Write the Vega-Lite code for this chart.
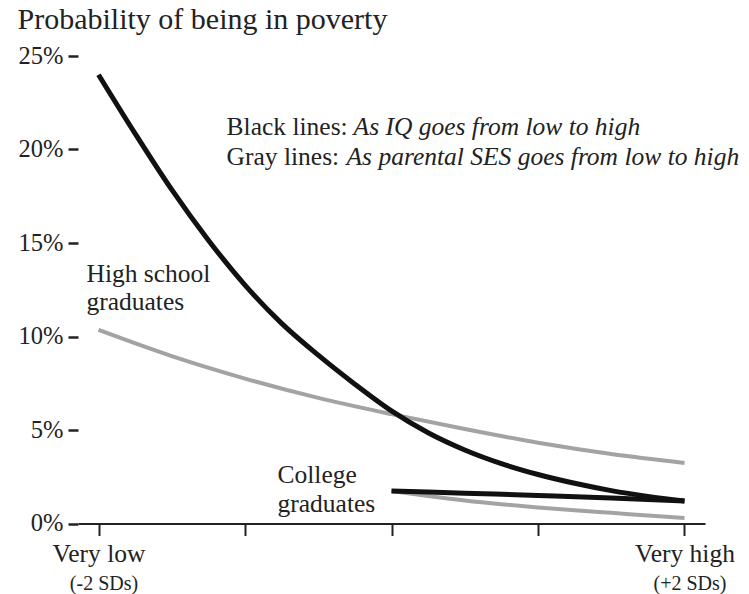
{
  "$schema": "https://vega.github.io/schema/vega-lite/v6.json",
  "width": 627,
  "height": 467.5,
  "autosize": "none",
  "padding": {"left": 78, "top": 56, "right": 44, "bottom": 70.5},
  "background": "white",
  "config": {"view": {"stroke": null}, "font": "Liberation Serif"},
  "datasets": {
    "curves": [
      {"series": "HS parental SES", "ink": "gray", "x": -2, "y": 10.35},
      {"series": "HS parental SES", "ink": "gray", "x": -1.5, "y": 8.95},
      {"series": "HS parental SES", "ink": "gray", "x": -1, "y": 7.75},
      {"series": "HS parental SES", "ink": "gray", "x": -0.5, "y": 6.72},
      {"series": "HS parental SES", "ink": "gray", "x": 0, "y": 5.85},
      {"series": "HS parental SES", "ink": "gray", "x": 0.5, "y": 5.05},
      {"series": "HS parental SES", "ink": "gray", "x": 1, "y": 4.32},
      {"series": "HS parental SES", "ink": "gray", "x": 1.5, "y": 3.72},
      {"series": "HS parental SES", "ink": "gray", "x": 2, "y": 3.24},
      {"series": "College parental SES", "ink": "gray", "x": 0, "y": 1.74},
      {"series": "College parental SES", "ink": "gray", "x": 0.25, "y": 1.47},
      {"series": "College parental SES", "ink": "gray", "x": 0.5, "y": 1.23},
      {"series": "College parental SES", "ink": "gray", "x": 0.75, "y": 1.03},
      {"series": "College parental SES", "ink": "gray", "x": 1, "y": 0.86},
      {"series": "College parental SES", "ink": "gray", "x": 1.25, "y": 0.71},
      {"series": "College parental SES", "ink": "gray", "x": 1.5, "y": 0.57},
      {"series": "College parental SES", "ink": "gray", "x": 1.75, "y": 0.43},
      {"series": "College parental SES", "ink": "gray", "x": 2, "y": 0.29},
      {"series": "HS IQ", "ink": "black", "x": -2, "y": 24.0},
      {"series": "HS IQ", "ink": "black", "x": -1.75, "y": 20.85},
      {"series": "HS IQ", "ink": "black", "x": -1.5, "y": 17.85},
      {"series": "HS IQ", "ink": "black", "x": -1.25, "y": 15.15},
      {"series": "HS IQ", "ink": "black", "x": -1, "y": 12.75},
      {"series": "HS IQ", "ink": "black", "x": -0.75, "y": 10.7},
      {"series": "HS IQ", "ink": "black", "x": -0.5, "y": 9.0},
      {"series": "HS IQ", "ink": "black", "x": -0.25, "y": 7.45},
      {"series": "HS IQ", "ink": "black", "x": 0, "y": 6.02},
      {"series": "HS IQ", "ink": "black", "x": 0.25, "y": 4.85},
      {"series": "HS IQ", "ink": "black", "x": 0.5, "y": 3.93},
      {"series": "HS IQ", "ink": "black", "x": 0.75, "y": 3.2},
      {"series": "HS IQ", "ink": "black", "x": 1, "y": 2.62},
      {"series": "HS IQ", "ink": "black", "x": 1.25, "y": 2.15},
      {"series": "HS IQ", "ink": "black", "x": 1.5, "y": 1.76},
      {"series": "HS IQ", "ink": "black", "x": 1.75, "y": 1.45},
      {"series": "HS IQ", "ink": "black", "x": 2, "y": 1.2},
      {"series": "College IQ", "ink": "black", "x": 0, "y": 1.74},
      {"series": "College IQ", "ink": "black", "x": 0.5, "y": 1.62},
      {"series": "College IQ", "ink": "black", "x": 1, "y": 1.5},
      {"series": "College IQ", "ink": "black", "x": 1.5, "y": 1.37},
      {"series": "College IQ", "ink": "black", "x": 2, "y": 1.2}
    ]
  },
  "resolve": {"axis": {"x": "independent", "y": "independent"}},
  "layer": [
    {
      "data": {"name": "curves"},
      "transform": [{"filter": "datum.ink == 'gray'"}],
      "mark": {"type": "line", "color": "#a3a3a3", "strokeWidth": 4, "interpolate": "monotone", "strokeCap": "butt"},
      "encoding": {
        "x": {
          "field": "x", "type": "quantitative",
          "scale": {"domain": [-2.14, 2.14], "nice": false, "zero": false},
          "axis": {
            "orient": "bottom",
            "values": [-2, -1, 0, 1, 2],
            "labelExpr": "datum.value == -2 ? 'Very low' : datum.value == 2 ? 'Very high' : ''",
            "tickSize": 12, "tickWidth": 2, "tickColor": "#222",
            "domainColor": "#222", "domainWidth": 2,
            "labelFont": "Liberation Serif", "labelFontSize": 25.5, "labelColor": "#222",
            "labelPadding": 6, "grid": false, "title": null,
            "labelFlush": false, "labelOverlap": false
          }
        },
        "y": {
          "field": "y", "type": "quantitative",
          "scale": {"domain": [0, 25], "nice": false},
          "axis": {
            "orient": "left",
            "values": [0, 5, 10, 15, 20, 25],
            "labelExpr": "datum.value + '%'",
            "tickSize": 10, "tickWidth": 2.5, "tickColor": "#222",
            "domain": false, "grid": false,
            "labelFont": "Liberation Serif", "labelFontSize": 24.5, "labelColor": "#222",
            "labelPadding": 5,
            "title": "Probability of being in poverty",
            "titleAngle": 0, "titleX": -61, "titleY": -28,
            "titleAlign": "left", "titleBaseline": "alphabetic",
            "titleFont": "Liberation Serif", "titleFontSize": 30,
            "titleFontWeight": "normal", "titleColor": "#222"
          }
        },
        "detail": {"field": "series"}
      }
    },
    {
      "data": {"name": "curves"},
      "transform": [{"filter": "datum.ink == 'black'"}],
      "mark": {"type": "line", "color": "#111", "strokeWidth": 5, "interpolate": "monotone", "strokeCap": "butt"},
      "encoding": {
        "x": {
          "field": "x", "type": "quantitative",
          "scale": {"domain": [-2.14, 2.14], "nice": false, "zero": false},
          "axis": {
            "orient": "bottom",
            "values": [-2, 2],
            "labelExpr": "datum.value == -2 ? '(-2 SDs)' : '(+2 SDs)'",
            "ticks": false, "tickSize": 0, "domain": false,
            "labelFont": "Liberation Serif", "labelFontSize": 20, "labelColor": "#222",
            "labelPadding": 50, "labelOffset": 5, "grid": false, "title": null,
            "labelFlush": false, "labelOverlap": false
          }
        },
        "y": {"field": "y", "type": "quantitative", "scale": {"domain": [0, 25], "nice": false}, "axis": null},
        "detail": {"field": "series"}
      }
    },
    {
      "data": {"values": [{}]},
      "mark": {"type": "text", "align": "left", "baseline": "alphabetic", "font": "Liberation Serif", "fontSize": 25.5, "color": "#222"},
      "encoding": {
        "x": {"datum": -1.126, "type": "quantitative", "axis": null},
        "y": {"datum": 20.78, "type": "quantitative", "axis": null},
        "text": {"value": "Black lines:"}
      }
    },
    {
      "data": {"values": [{}]},
      "mark": {"type": "text", "align": "left", "baseline": "alphabetic", "font": "Liberation Serif", "fontSize": 25.5, "fontStyle": "italic", "color": "#222"},
      "encoding": {
        "x": {"datum": -0.259, "type": "quantitative", "axis": null},
        "y": {"datum": 20.78, "type": "quantitative", "axis": null},
        "text": {"value": "As IQ goes from low to high"}
      }
    },
    {
      "data": {"values": [{}]},
      "mark": {"type": "text", "align": "left", "baseline": "alphabetic", "font": "Liberation Serif", "fontSize": 25.5, "color": "#222"},
      "encoding": {
        "x": {"datum": -1.126, "type": "quantitative", "axis": null},
        "y": {"datum": 19.17, "type": "quantitative", "axis": null},
        "text": {"value": "Gray lines:"}
      }
    },
    {
      "data": {"values": [{}]},
      "mark": {"type": "text", "align": "left", "baseline": "alphabetic", "font": "Liberation Serif", "fontSize": 25.5, "fontStyle": "italic", "color": "#222"},
      "encoding": {
        "x": {"datum": -0.307, "type": "quantitative", "axis": null},
        "y": {"datum": 19.17, "type": "quantitative", "axis": null},
        "text": {"value": "As parental SES goes from low to high"}
      }
    },
    {
      "data": {"values": [{}]},
      "mark": {"type": "text", "align": "left", "baseline": "alphabetic", "font": "Liberation Serif", "fontSize": 25.5, "lineHeight": 28, "color": "#222"},
      "encoding": {
        "x": {"datum": -2.082, "type": "quantitative", "axis": null},
        "y": {"datum": 12.91, "type": "quantitative", "axis": null},
        "text": {"value": ["High school", "graduates"]}
      }
    },
    {
      "data": {"values": [{}]},
      "mark": {"type": "text", "align": "left", "baseline": "alphabetic", "font": "Liberation Serif", "fontSize": 25.5, "lineHeight": 29, "color": "#222"},
      "encoding": {
        "x": {"datum": -0.778, "type": "quantitative", "axis": null},
        "y": {"datum": 2.17, "type": "quantitative", "axis": null},
        "text": {"value": ["College", "graduates"]}
      }
    }
  ]
}
